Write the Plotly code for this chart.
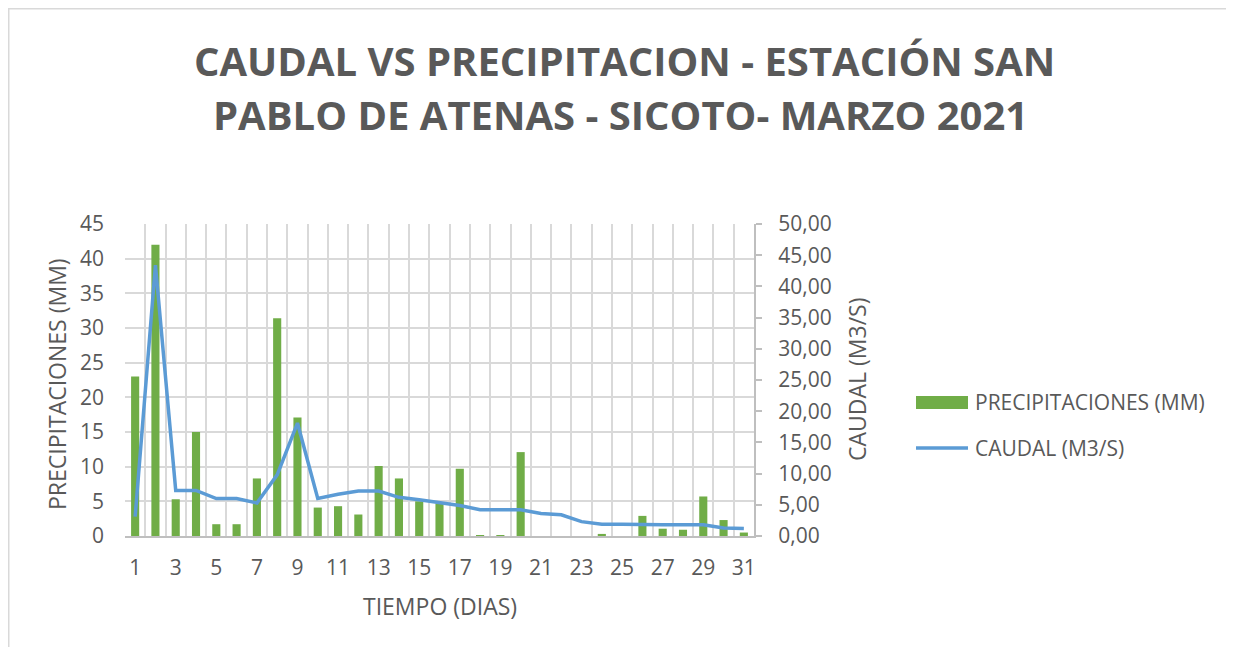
import plotly.graph_objects as go

dias = list(range(1, 32))
precipitaciones = [23.0, 42.0, 5.3, 15.0, 1.7, 1.7, 8.3, 31.4, 17.1, 4.1,
                   4.3, 3.1, 10.1, 8.3, 5.0, 4.7, 9.7, 0.1, 0.1, 12.1,
                   0.0, 0.0, 0.0, 0.3, 0.0, 2.9, 1.05, 0.9, 5.7, 2.3, 0.5]
caudal = [3.1, 43.4, 7.3, 7.3, 6.0, 6.0, 5.3, 9.8, 18.1, 6.0,
          6.7, 7.2, 7.2, 6.2, 5.8, 5.3, 4.9, 4.2, 4.2, 4.2,
          3.6, 3.4, 2.3, 1.9, 1.9, 1.8, 1.8, 1.8, 1.8, 1.3, 1.2]
x_tick_vals = list(range(1, 32, 2))
title_lines = ["CAUDAL VS PRECIPITACION - ESTACIÓN SAN",
               "PABLO DE ATENAS - SICOTO- MARZO 2021"]
names = ["PRECIPITACIONES (MM)", "CAUDAL (M3/S)"]

GRAY = "#595959"
FONT = "Open Sans"
GREEN = "#70ad47"
BLUE = "#5b9bd5"

# page offset (body margin) = 8px; coordinates below are page pixels
OFF = 8
W, H = 1234 - OFF, 647 - OFF
L, R, T, B = 125 - OFF, 1234 - 754, 224 - OFF, 647 - 536
pw, ph = W - L - R, H - T - B

def px(xp):
    return (xp - OFF - L) / pw

def py(yp):
    return (H - B - (yp - OFF)) / ph

fig = go.Figure()
fig.add_trace(go.Bar(
    x=dias, y=precipitaciones, name=names[0],
    marker=dict(color=GREEN, line=dict(width=0)), width=0.4,
))
fig.add_trace(go.Scatter(
    x=dias, y=caudal, name=names[1], yaxis="y2", mode="lines",
    line=dict(color=BLUE, width=3.5),
))

annotations = [
    dict(text=title_lines[0], x=px(624), y=py(60), xref="paper", yref="paper",
         xanchor="center", yanchor="middle", showarrow=False,
         font=dict(family=FONT, size=40, color=GRAY, weight="bold")),
    dict(text=title_lines[1], x=px(620), y=py(115), xref="paper", yref="paper",
         xanchor="center", yanchor="middle", showarrow=False,
         font=dict(family=FONT, size=40, color=GRAY, weight="bold")),
    dict(text="TIEMPO (DIAS)", x=px(440), y=py(606), xref="paper", yref="paper",
         xanchor="center", yanchor="middle", showarrow=False,
         font=dict(size=23, color=GRAY)),
    dict(text="PRECIPITACIONES (MM)", x=px(57), y=py(384), xref="paper", yref="paper",
         xanchor="center", yanchor="middle", showarrow=False, textangle=-90,
         font=dict(size=23, color=GRAY)),
    dict(text="CAUDAL (M3/S)", x=px(857), y=py(380), xref="paper", yref="paper",
         xanchor="center", yanchor="middle", showarrow=False, textangle=-90,
         font=dict(size=23, color=GRAY)),
    dict(text=names[0], x=px(973), y=py(402), xref="paper", yref="paper",
         xanchor="left", yanchor="middle", showarrow=False,
         font=dict(size=21, color=GRAY)),
    dict(text=names[1], x=px(973), y=py(448), xref="paper", yref="paper",
         xanchor="left", yanchor="middle", showarrow=False,
         font=dict(size=21, color=GRAY)),
]

shapes = [
    dict(type="rect", xref="paper", yref="paper",
         x0=px(OFF + 0.5), x1=px(1233), y0=py(670), y1=py(OFF + 0.5),
         line=dict(color="#d9d9d9", width=2), fillcolor="rgba(0,0,0,0)", layer="below"),
    dict(type="rect", xref="paper", yref="paper",
         x0=px(916), x1=px(968), y0=py(409), y1=py(396),
         line=dict(width=0), fillcolor=GREEN),
    dict(type="line", xref="paper", yref="paper",
         x0=px(916), x1=px(968), y0=py(448), y1=py(448),
         line=dict(color=BLUE, width=3.5)),
]

fig.update_layout(
    width=W, height=H,
    margin=dict(l=L, r=R, t=T, b=B, pad=0),
    paper_bgcolor="white", plot_bgcolor="white",
    separators=",.",
    font=dict(family=FONT, color=GRAY, size=21),
    showlegend=False,
    xaxis=dict(
        range=[0.5, 31.5], tickvals=x_tick_vals, ticktext=[str(v) for v in x_tick_vals],
        showgrid=False, showline=True, linecolor="#bfbfbf", linewidth=2,
        ticks="", tickfont=dict(size=21, color=GRAY), ticklabelstandoff=12,
        minor=dict(tick0=0.5, dtick=1, showgrid=True, gridcolor="#d9d9d9", gridwidth=2, ticks=""),
        zeroline=False, automargin=False,
    ),
    yaxis=dict(
        range=[0, 45], dtick=5, showgrid=True, gridcolor="#d9d9d9", gridwidth=2,
        zeroline=False, showline=False, ticks="", ticklabelstandoff=20,
        tickfont=dict(size=21, color=GRAY), automargin=False,
    ),
    yaxis2=dict(
        range=[0, 50], dtick=5, overlaying="y", side="right", showgrid=False,
        zeroline=False, showline=True, linecolor="#bfbfbf", linewidth=2,
        ticks="outside", ticklen=6, tickcolor="#bfbfbf", tickwidth=2,
        tickformat=".2f", tickfont=dict(size=21, color=GRAY), ticklabelstandoff=12,
        automargin=False,
    ),
    annotations=annotations,
    shapes=shapes,
)

fig.write_html("out.html")
